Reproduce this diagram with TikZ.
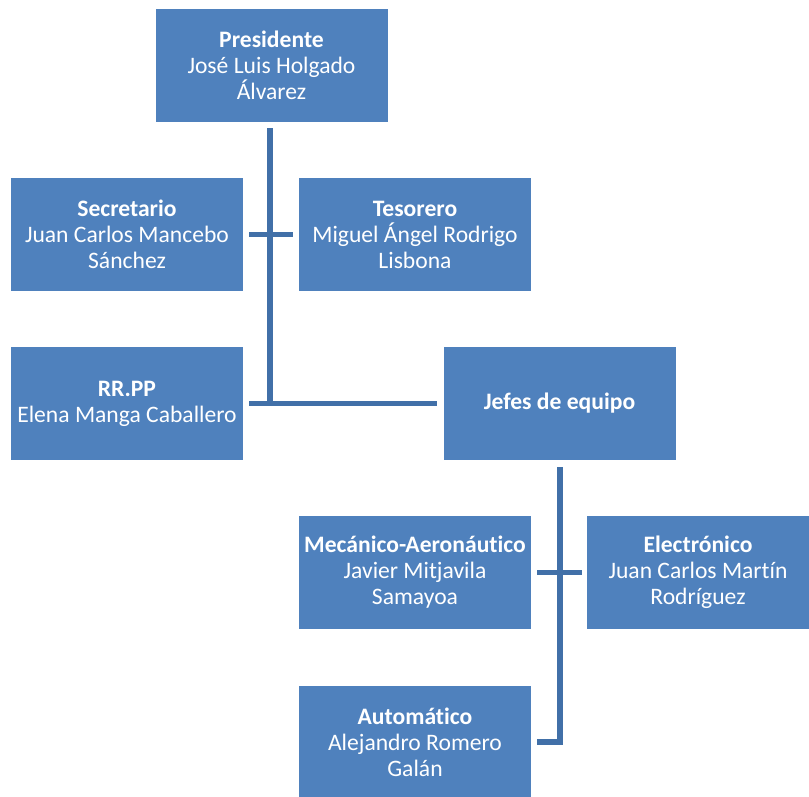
\documentclass[tikz,border=0pt]{standalone}
\usepackage{fontspec}
\setmainfont{Carlito}[Ligatures=NoCommon]
\usetikzlibrary{calc}
\definecolor{boxblue}{HTML}{4F81BD}
\definecolor{linkblue}{HTML}{4170A8}
\begin{document}
\begin{tikzpicture}[x=1pt,y=-1pt,
  box/.style={fill=boxblue, draw=none, text=white, align=center,
    minimum width=232pt, minimum height=113pt, inner sep=0pt,
    font=\fontsize{23.6}{26}\selectfont},
  conn/.style={draw=linkblue, line width=5.5pt, line cap=butt}]
\useasboundingbox (0,0) rectangle (809,796);
% boxes
\node[box] (pres) at (271.5,65.5) {\textbf{Presidente}\\José Luis Holgado\\Álvarez};
\node[box] (sec)  at (127,234.5) {\textbf{Secretario}\\Juan Carlos Mancebo\\Sánchez};
\node[box] (tes)  at (415,234.5) {\textbf{Tesorero}\\Miguel Ángel Rodrigo\\Lisbona};
\node[box] (rrpp) at (127,403.5) {\textbf{RR.PP}\\Elena Manga Caballero};
\node[box] (jefes) at (559.5,403.5) {\textbf{Jefes de equipo}};
\node[box] (mec)  at (415,572.5) {\textbf{Mecánico-Aeronáutico}\\Javier Mitjavila\\Samayoa};
\node[box, minimum width=222pt] (elec) at (698,572.5) {\textbf{Electrónico}\\Juan Carlos Martín\\Rodríguez};
\node[box] (auto) at (415,742) {\textbf{Automático}\\Alejandro Romero\\Galán};
% upper trunk
\coordinate (t1) at ($(pres.south)+(-1.5,6)$);
\coordinate (t2) at (t1 |- rrpp.east);
\draw[conn] (t1) -- (t2);
\draw[conn] ($(sec.east)+(6,0)$) -- ($(tes.west)+(-6,0)$);
\draw[conn] ($(rrpp.east)+(6,0)$) -- ($(jefes.west)+(-6,0)$);
% lower trunk
\coordinate (b1) at ($(jefes.south)+(0.5,7)$);
\coordinate (b2) at (b1 |- auto.east);
\draw[conn] ($(mec.east)+(6,0)$) -- ($(elec.west)+(-5,0)$);
\draw[conn, line join=miter] (b1) -- (b2) -- ($(auto.east)+(6,0)$);
\end{tikzpicture}
\end{document}
